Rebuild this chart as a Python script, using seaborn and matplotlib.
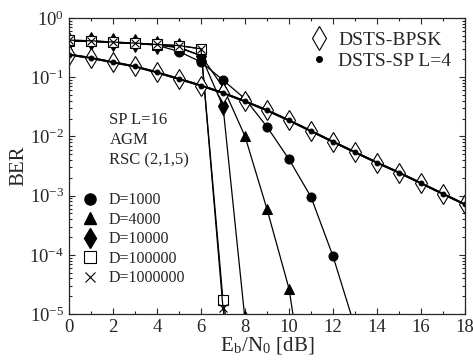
import numpy as np
import pandas as pd
import matplotlib
matplotlib.use("Agg")
import matplotlib.pyplot as plt
from matplotlib.lines import Line2D
from matplotlib.ticker import LogLocator, MultipleLocator, NullFormatter
import seaborn as sns

# ---- data ----
ebn0_bpsk = list(range(0, 19))
ber_bpsk = [0.24, 0.21, 0.178, 0.151, 0.12, 0.093, 0.072, 0.054, 0.039, 0.0275,
            0.0186, 0.0123, 0.0081, 0.0054, 0.0036, 0.00245, 0.00162, 0.00107, 0.00071]
ber_sp4 = ber_bpsk

ebn0_d1000 = list(range(0, 14))
ber_d1000 = [0.41, 0.40, 0.38, 0.37, 0.345, 0.27, 0.18, 0.089, 0.043, 0.0145,
             0.0041, 0.00095, 9.5e-5, 6e-6]
ebn0_d4000 = list(range(0, 12))
ber_d4000 = [0.41, 0.40, 0.385, 0.37, 0.35, 0.31, 0.23, 0.068, 0.0100, 0.00059,
             2.7e-5, 1e-7]
ebn0_d10000 = list(range(0, 9))
ber_d10000 = [0.41, 0.40, 0.385, 0.37, 0.35, 0.32, 0.23, 0.032, 8e-6]
ebn0_d100000 = list(range(0, 9))
ber_d100000 = [0.42, 0.41, 0.39, 0.375, 0.355, 0.34, 0.30, 1.7e-5, 1e-7]
ebn0_d1000000 = list(range(0, 9))
ber_d1000000 = [0.42, 0.41, 0.39, 0.375, 0.355, 0.34, 0.30, 1.25e-5, 1e-7]

series_labels = ["D=1000", "D=4000", "D=10000", "D=100000", "D=1000000"]
annot_lines = ["SP L=16", "AGM", "RSC (2,1,5)"]
xticks = [0, 2, 4, 6, 8, 10, 12, 14, 16, 18]

sns.set_style("ticks")
plt.rcParams["font.family"] = ["Liberation Serif", "DejaVu Serif"]
plt.rcParams["mathtext.fontset"] = "stix"

fig = plt.figure(figsize=(4.73, 3.64), dpi=100)
ax = fig.add_axes([0.146, 0.137, 0.837, 0.814])

def line(x, y, **kw):
    sns.lineplot(x=x, y=y, ax=ax, color="black", legend=False, **kw)

# D curves
line(ebn0_d1000, ber_d1000, marker="o", markersize=6.5, linewidth=0.9,
     markerfacecolor="black", markeredgecolor="black")
line(ebn0_d4000, ber_d4000, marker="^", markersize=6.5, linewidth=0.9,
     markerfacecolor="black", markeredgecolor="black")
line(ebn0_d10000, ber_d10000, marker="d", markersize=9, linewidth=0.9,
     markerfacecolor="black", markeredgecolor="black")
line(ebn0_d100000, ber_d100000, marker="s", markersize=7, linewidth=0.9,
     markerfacecolor="white", markeredgecolor="black", markeredgewidth=0.8)
line(ebn0_d1000000, ber_d1000000, marker="x", markersize=6, linewidth=0.9,
     markeredgecolor="black", markeredgewidth=0.8)

# BPSK / SP L=4
line(ebn0_bpsk, ber_bpsk, marker="d", markersize=10, linewidth=1.5,
     markerfacecolor="white", markeredgecolor="black", markeredgewidth=0.8)
line(ebn0_bpsk, ber_sp4, marker="o", markersize=3.5, linewidth=1.5,
     markerfacecolor="black", markeredgecolor="black")

ax.set_yscale("log")
ax.set_xlim(0, 18)
ax.set_ylim(1e-5, 1)
ax.set_xticks(xticks)
ax.xaxis.set_minor_locator(MultipleLocator(1))
ax.yaxis.set_major_locator(LogLocator(base=10, numticks=10))
ax.yaxis.set_minor_locator(LogLocator(base=10, subs=np.arange(2, 10), numticks=20))
ax.yaxis.set_minor_formatter(NullFormatter())
ax.tick_params(which="both", direction="in", top=True, right=True, labelsize=13.5,
               width=0.8)
ax.tick_params(which="major", length=4)
ax.tick_params(which="minor", length=2)
for s in ax.spines.values():
    s.set_linewidth(0.9)

ax.set_xlabel(r"E$_\mathregular{b}$/N$_\mathregular{0}$ [dB]", fontsize=15, labelpad=-1)
ax.set_ylabel("BER", fontsize=15, labelpad=1)

# annotation text
for i, t in enumerate(annot_lines):
    ax.text(0.102, 0.655 - i * 0.0676, t, transform=ax.transAxes, fontsize=12,
            va="center", ha="left")

# legend 1 (top right)
h1 = [Line2D([], [], color="none", marker="d", markersize=12, markerfacecolor="white",
             markeredgecolor="black", markeredgewidth=0.8),
      Line2D([], [], color="none", marker="o", markersize=4, markerfacecolor="black",
             markeredgecolor="black")]
leg1 = ax.legend(h1, ["DSTS-BPSK", "DSTS-SP L=4"], loc="upper right",
                 bbox_to_anchor=(1.0, 1.0), frameon=False, fontsize=14,
                 handlelength=1.0, handletextpad=0.5, labelspacing=0.15,
                 borderaxespad=0.3)
ax.add_artist(leg1)

# legend 2 (left)
h2 = [Line2D([], [], color="none", marker="o", markersize=8, markerfacecolor="black",
             markeredgecolor="black"),
      Line2D([], [], color="none", marker="^", markersize=8, markerfacecolor="black",
             markeredgecolor="black"),
      Line2D([], [], color="none", marker="d", markersize=10, markerfacecolor="black",
             markeredgecolor="black"),
      Line2D([], [], color="none", marker="s", markersize=8, markerfacecolor="white",
             markeredgecolor="black", markeredgewidth=0.8),
      Line2D([], [], color="none", marker="x", markersize=7, markeredgecolor="black",
             markeredgewidth=0.8)]
leg2 = ax.legend(h2, series_labels, loc="upper left", bbox_to_anchor=(0.0, 0.455),
                 frameon=False, fontsize=11.5, handlelength=1.0, handletextpad=0.7,
                 labelspacing=0.22, borderaxespad=0.4)

fig.savefig("out.png", dpi=100)
